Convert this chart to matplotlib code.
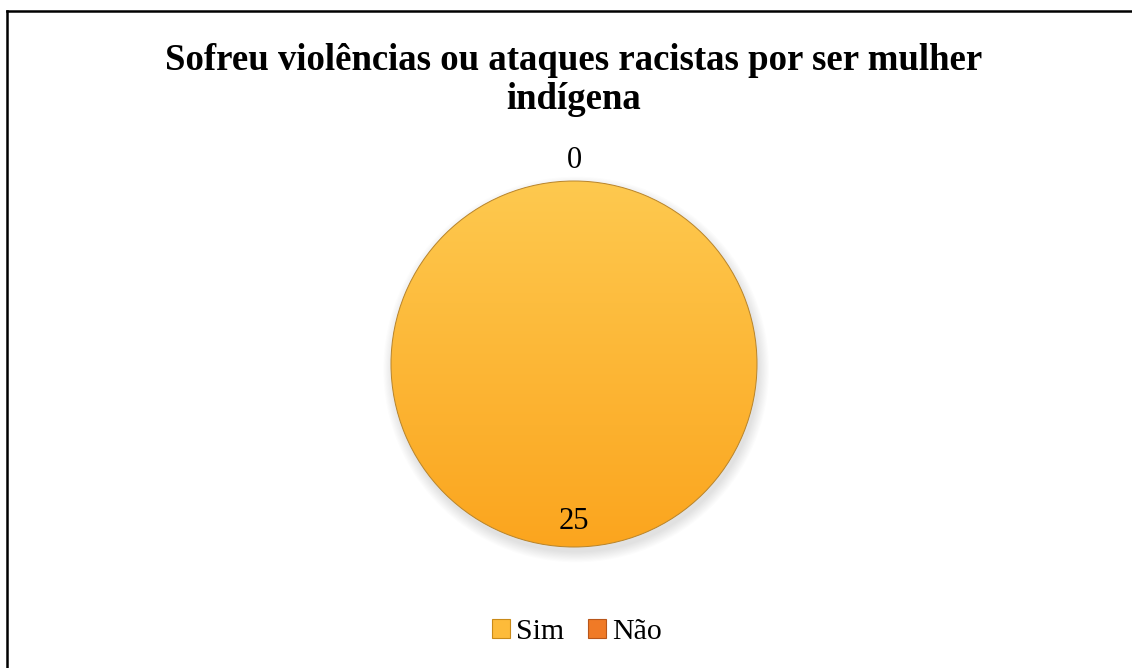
import matplotlib.pyplot as plt
from matplotlib.patches import Patch, Circle
from matplotlib.lines import Line2D
from matplotlib.colors import LinearSegmentedColormap
import numpy as np

categorias = ["Sim", "Não"]
respostas = [25, 0]
cores_topo = ["#FEC94F", "#F6893A"]
cores_base = ["#FBA51E", "#E4691B"]
titulo = "Sofreu violências ou ataques racistas por ser mulher\nindígena"

W, H = 1132, 668
fig = plt.figure(figsize=(W / 100, H / 100), dpi=100)
fig.patch.set_facecolor("white")

# moldura (só aparecem os lados de cima e da esquerda)
fig.add_artist(Line2D([7 / W, 7 / W], [0, 1 - 11 / H], transform=fig.transFigure,
                      color="black", lw=1.8))
fig.add_artist(Line2D([7 / W, 1], [1 - 11 / H, 1 - 11 / H], transform=fig.transFigure,
                      color="black", lw=1.8))

# eixo quadrado centrado na pizza
cx, cy, R = 574, 364, 183
half = R * 1.1
ax = fig.add_axes([(cx - half) / W, (H - cy - half) / H, 2 * half / W, 2 * half / H])

# sombra suave
for k in range(10):
    ax.add_patch(Circle((0.012, -0.03), 1.0 + 0.006 * k, color="black",
                        alpha=0.012, lw=0, zorder=0))

wedges, _ = ax.pie(respostas, startangle=90, counterclock=False, radius=1.0,
                   colors=cores_base,
                   wedgeprops=dict(edgecolor="#B8842A", linewidth=0.7))
ax.set_aspect("equal")
ax.axis("off")

for w, c1, c2, v in zip(wedges, cores_topo, cores_base, respostas):
    w.set_zorder(2)
    if v > 0:
        cmap = LinearSegmentedColormap.from_list("g", [c2, c1])
        grad = np.linspace(0, 1, 256).reshape(-1, 1)
        img = ax.imshow(grad, extent=[-1, 1, -1, 1], origin="lower", cmap=cmap,
                        aspect="auto", zorder=1)
        img.set_clip_path(w)
        w.set_facecolor("none")
    else:
        w.set_linewidth(0)

    ang = np.deg2rad((w.theta1 + w.theta2) / 2)
    dist = 0.86 if v > 0 else 1.11
    ax.text(dist * np.cos(ang), dist * np.sin(ang), str(v), ha="center", va="center",
            fontsize=22, family="Liberation Serif", zorder=3)
ax.set_xlim(-1.1, 1.1)
ax.set_ylim(-1.1, 1.1)

fig.text(574 / W, 1 - 80 / H, titulo, ha="center", va="center", fontsize=26.5,
         fontweight="bold", family="Liberation Serif", linespacing=1.15)

handles = [Patch(facecolor=c, edgecolor=e, linewidth=0.8)
           for c, e in zip(["#FDBB3A", "#F07A26"], ["#C98A18", "#B8561A"])]
fig.legend(handles, categorias, loc="center", bbox_to_anchor=(577 / W, 1 - 632 / H),
           ncol=2, frameon=False, prop={"family": "Liberation Serif", "size": 21.5},
           handlelength=0.6, handleheight=0.6, handletextpad=0.2, columnspacing=0.8)

fig.savefig("out.png", dpi=100, facecolor="white")
